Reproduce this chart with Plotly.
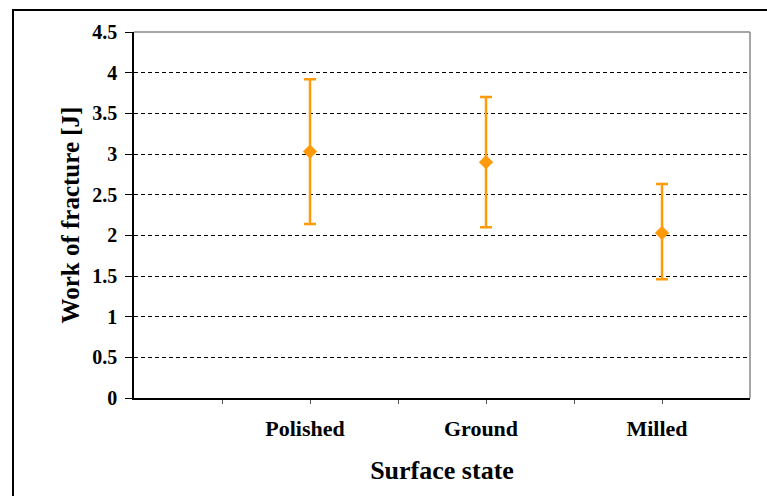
import plotly.graph_objects as go

categories = ["Polished", "Ground", "Milled"]
means = [3.03, 2.90, 2.03]
upper = [3.92, 3.70, 2.63]
lower = [2.14, 2.10, 1.46]
y_ticks = [0, 0.5, 1, 1.5, 2, 2.5, 3, 3.5, 4, 4.5]

x_pos = [2 * (i + 1) for i in range(len(categories))]
err_plus = [u - m for u, m in zip(upper, means)]
err_minus = [m - l for m, l in zip(means, lower)]

orange = "#FF9A0A"
serif = "'Liberation Serif', 'Times New Roman', Times, serif"

fig = go.Figure()
fig.add_trace(go.Scatter(
    x=x_pos, y=means, mode="markers",
    marker=dict(symbol="diamond", size=11, color=orange),
    error_y=dict(type="data", symmetric=False, array=err_plus, arrayminus=err_minus,
                 color=orange, thickness=2.5, width=6),
    showlegend=False,
))

tick_vals = list(range(1, 7))
tick_text = []
for v in tick_vals:
    tick_text.append(categories[x_pos.index(v)] if v in x_pos else "")

fig.update_layout(
    width=767, height=496,
    margin=dict(l=134, r=17, t=32, b=98),
    paper_bgcolor="white", plot_bgcolor="white",
    font=dict(family=serif, color="black"),
    xaxis=dict(range=[0, 7], tickvals=tick_vals, ticktext=tick_text,
               showgrid=False, zeroline=False, showline=True, linecolor="black", linewidth=1.5,
               ticks="outside", ticklen=4, tickcolor="#555", tickwidth=1,
               ticklabelshift=-5, ticklabelstandoff=6,
               tickfont=dict(family=serif, size=22, weight="bold"),
               title=dict(text="Surface state", font=dict(family=serif, size=26, weight="bold"), standoff=21)),
    yaxis=dict(range=[0, 4.5], tickvals=y_ticks, ticktext=[f"{v:g}" for v in y_ticks],
               showgrid=True, gridcolor="black", gridwidth=1, griddash="4px,3px",
               zeroline=False, showline=True, linecolor="black", linewidth=1.5,
               ticks="outside", ticklen=7, tickcolor="black", tickwidth=1,
               ticklabelstandoff=4,
               tickfont=dict(family=serif, size=20, weight="bold"),
               title=dict(text="Work of fracture [J]", font=dict(family=serif, size=25, weight="bold"), standoff=6)),
    shapes=[
        dict(type="line", xref="paper", yref="paper", x0=0, x1=1, y0=1, y1=1,
             line=dict(color="white", width=3), layer="above"),
        dict(type="line", xref="paper", yref="paper", x0=0, x1=1, y0=1, y1=1,
             line=dict(color="#888", width=1.5), layer="above"),
        dict(type="line", xref="paper", yref="paper", x0=1, x1=1, y0=0, y1=1,
             line=dict(color="#888", width=1.5), layer="above"),
        dict(type="rect", xref="paper", yref="paper",
             x0=-121 / 616, x1=(767 - 134 + 5) / 616, y0=-(496 - 398 + 2) / 366, y1=1 + 22 / 366,
             line=dict(color="black", width=2), fillcolor="rgba(0,0,0,0)", layer="above"),
    ],
)

fig.write_html("out.html")
